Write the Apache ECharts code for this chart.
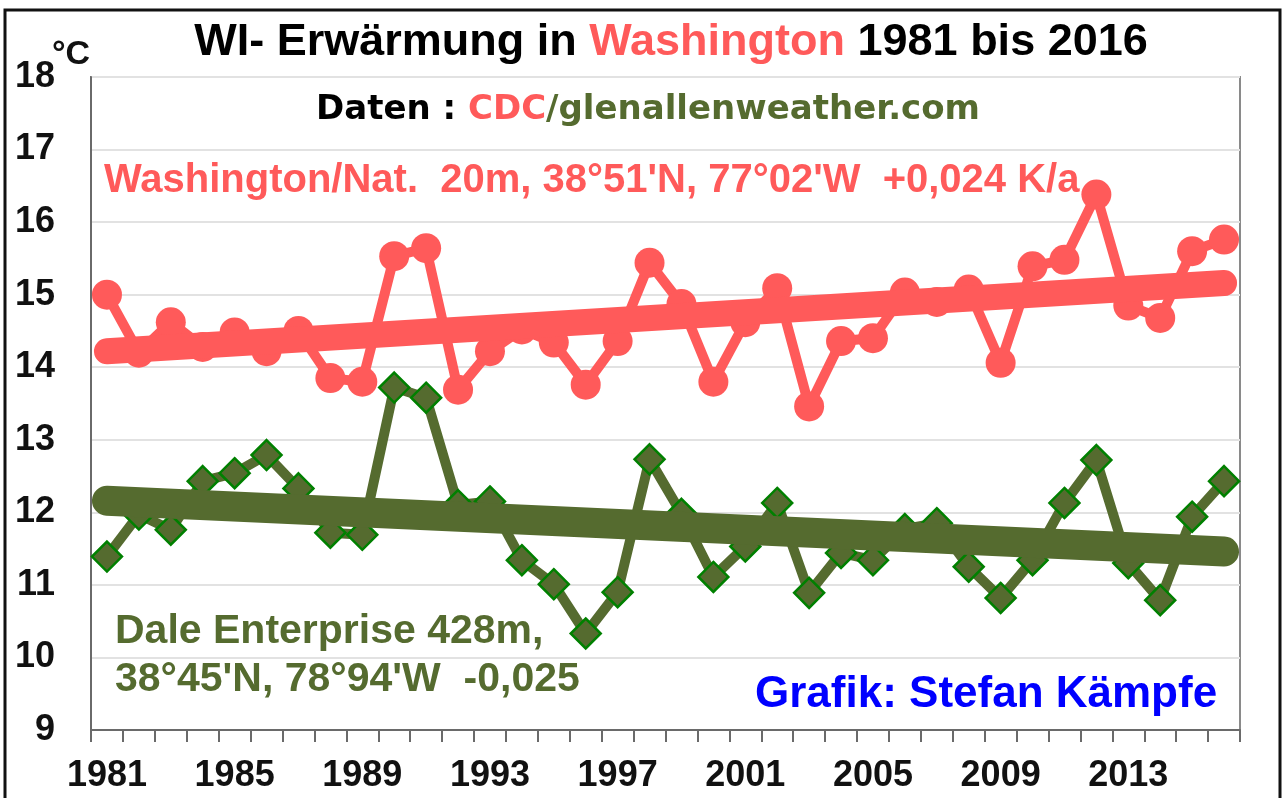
<!DOCTYPE html>
<html>
<head>
<meta charset="utf-8">
<script src="https://cdn.jsdelivr.net/npm/echarts@6/dist/echarts.min.js"></script>
<style>
html,body{margin:0;padding:0;background:#fff;}
#chart{width:1283px;height:798px;}
</style>
</head>
<body>
<div id="chart"></div>
<script>
const years = ['1981','1982','1983','1984','1985','1986','1987','1988','1989','1990','1991','1992','1993','1994','1995','1996','1997','1998','1999','2000','2001','2002','2003','2004','2005','2006','2007','2008','2009','2010','2011','2012','2013','2014','2015','2016'];
const washington = [15.0,14.2,14.62,14.28,14.48,14.22,14.5,13.85,13.8,15.53,15.64,13.69,14.22,14.52,14.34,13.76,14.36,15.44,14.87,13.8,14.62,15.09,13.46,14.36,14.4,15.03,14.9,15.07,14.06,15.39,15.48,16.38,14.85,14.68,15.6,15.76];
const dale = [11.39,11.97,11.76,12.43,12.54,12.79,12.33,11.72,11.69,13.72,13.58,12.1,12.15,11.34,11.01,10.33,10.9,12.73,11.98,11.11,11.53,12.13,10.89,11.44,11.34,11.77,11.85,11.25,10.82,11.34,12.13,12.72,11.3,10.79,11.94,12.43];
const washingtonTrend = [14.22, 15.16];   // start (1981), end (2016)
const daleTrend = [12.16, 11.46];         // start (1981), end (2016)
const yMin = 9, yMax = 18, yStep = 1;

const RED = '#FF5A5A', OLIVE = '#556B2F', GREEN = '#008000';
const chart = echarts.init(document.getElementById('chart'), null, {renderer:'canvas'});
const last = years.length - 1;

function heavy(color) {
  return {fontSize: 34, fontWeight: 'bold', fontFamily: 'DejaVu Sans', fill: color};
}

chart.setOption({
  animation: false,
  backgroundColor: '#fff',
  grid: {left: 91, right: 43, top: 77, bottom: 68, show: true, borderColor: '#8a8a8a', borderWidth: 2},
  xAxis: {
    type: 'category', data: years, boundaryGap: true,
    axisLine: {lineStyle: {color: '#6a6a6a', width: 2}},
    axisTick: {show: true, interval: 0, length: 12, lineStyle: {color: '#6a6a6a', width: 2}},
    axisLabel: {interval: 3, margin: 28, color: '#111', fontSize: 36, fontWeight: 'bold', fontFamily: 'Liberation Sans'},
    splitLine: {show: false}
  },
  yAxis: {
    type: 'value', min: yMin, max: yMax, interval: yStep,
    axisLine: {show: true, lineStyle: {color: '#6a6a6a', width: 2}},
    axisTick: {show: false},
    axisLabel: {margin: 36, color: '#111', fontSize: 36, fontWeight: 'bold', fontFamily: 'Liberation Sans'},
    splitLine: {lineStyle: {color: '#e2e2e2', width: 2}}
  },
  series: [
    {type: 'line', data: dale, symbol: 'diamond', symbolSize: 30, showAllSymbol: true, z: 2,
     lineStyle: {color: OLIVE, width: 10, join: 'round'},
     itemStyle: {color: OLIVE, borderColor: GREEN, borderWidth: 2.5}},
    {type: 'line', data: [[years[0], daleTrend[0]], [years[last], daleTrend[1]]], symbol: 'none', z: 3,
     lineStyle: {color: OLIVE, width: 30, cap: 'round'}},
    {type: 'line', data: washington, symbol: 'circle', symbolSize: 30, showAllSymbol: true, z: 4,
     lineStyle: {color: RED, width: 10, join: 'round'},
     itemStyle: {color: RED}},
    {type: 'line', data: [[years[0], washingtonTrend[0]], [years[last], washingtonTrend[1]]], symbol: 'none', z: 5,
     lineStyle: {color: RED, width: 26, cap: 'round'}}
  ],
  graphic: [
    {type: 'rect', z: 100, shape: {x: 5, y: 10, width: 1275, height: 800},
     style: {fill: 'none', stroke: '#111', lineWidth: 3}},
    {type: 'text', z: 100, x: 671, y: 43,
     style: {text: '{k|WI- Erwärmung in }{r|Washington}{k| 1981 bis 2016}', textAlign: 'center', textVerticalAlign: 'middle',
       rich: {k: {fontSize: 45, fontWeight: 'bold', fontFamily: 'Liberation Sans', fill: '#000'},
              r: {fontSize: 45, fontWeight: 'bold', fontFamily: 'Liberation Sans', fill: RED}}}},
    {type: 'text', z: 100, x: 648, y: 110,
     style: {text: '{k|Daten : }{r|CDC}{g|/glenallenweather.com}', textAlign: 'center', textVerticalAlign: 'middle',
       rich: {k: heavy('#000'), r: heavy(RED), g: heavy(OLIVE)}}},
    {type: 'text', z: 100, x: 104, y: 181,
     style: {text: "Washington/Nat.  20m, 38°51'N, 77°02'W  +0,024 K/a", textAlign: 'left', textVerticalAlign: 'middle',
       font: 'bold 40px "Liberation Sans"', fill: RED}},
    {type: 'text', z: 100, x: 115, y: 632,
     style: {text: 'Dale Enterprise 428m,', textAlign: 'left', textVerticalAlign: 'middle',
       font: 'bold 41px "Liberation Sans"', fill: OLIVE}},
    {type: 'text', z: 100, x: 115, y: 680,
     style: {text: "38°45'N, 78°94'W  -0,025", textAlign: 'left', textVerticalAlign: 'middle',
       font: 'bold 41px "Liberation Sans"', fill: OLIVE}},
    {type: 'text', z: 100, x: 755, y: 695,
     style: {text: 'Grafik: Stefan Kämpfe', textAlign: 'left', textVerticalAlign: 'middle',
       font: 'bold 44px "Liberation Sans"', fill: '#0000FF'}},
    {type: 'text', z: 100, x: 52, y: 55,
     style: {text: '°C', textAlign: 'left', textVerticalAlign: 'middle',
       font: 'bold 34px "Liberation Sans"', fill: '#111'}}
  ]
});
</script>
</body>
</html>
